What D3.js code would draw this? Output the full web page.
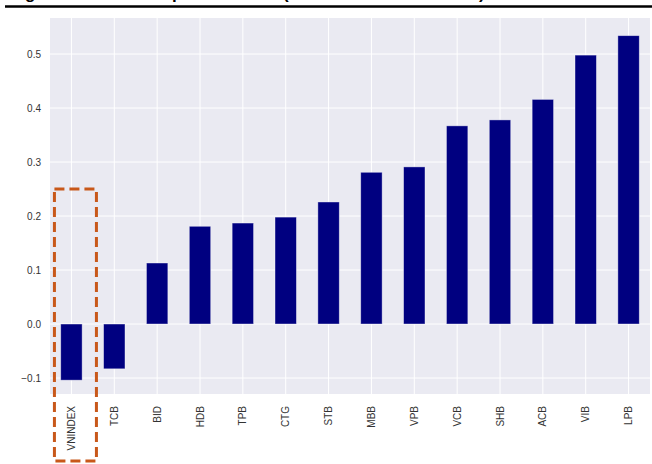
<!DOCTYPE html>
<html>
<head>
<meta charset="utf-8">
<script src="https://cdn.jsdelivr.net/npm/d3@7"></script>
<style>
  body { margin: 0; background: #fff; }
  svg { display: block; }
</style>
</head>
<body>
<svg width="652" height="464"></svg>
<script>
// bank tickers, sorted by value
var tickers = ["VNINDEX", "TCB", "BID", "HDB", "TPB", "CTG", "STB", "MBB", "VPB", "VCB", "SHB", "ACB", "VIB", "LPB"];
var values = [-0.104, -0.083, 0.113, 0.181, 0.187, 0.198, 0.226, 0.281, 0.291, 0.367, 0.378, 0.416, 0.498, 0.534];
var yTicks = [-0.1, 0.0, 0.1, 0.2, 0.3, 0.4, 0.5];

var svg = d3.select("svg"),
    width = +svg.attr("width"),
    height = +svg.attr("height");

var margin = { top: 18, right: 2, bottom: 70, left: 50 };
var plotW = width - margin.left - margin.right,
    plotH = height - margin.top - margin.bottom;

// cut-off title above the chart (only descenders visible)
var title = svg.append("g");
title.selectAll("text")
    .data([{ t: "g", x: 25 }, { t: "p", x: 172 }, { t: "(", x: 283 }, { t: ")", x: 479 }])
    .enter().append("text")
      .attr("x", d => d.x)
      .attr("y", -1)
      .attr("font-family", "Arial, 'Liberation Sans', sans-serif")
      .attr("font-weight", "bold")
      .attr("font-size", 17)
      .attr("fill", "#000")
      .text(d => d.t);
svg.append("line")
    .attr("x1", 5).attr("x2", width)
    .attr("y1", 6.5).attr("y2", 6.5)
    .attr("stroke", "#000")
    .attr("stroke-width", 2.5);

var g = svg.append("g")
    .attr("transform", "translate(" + margin.left + "," + margin.top + ")");

var x = d3.scaleBand()
    .domain(tickers)
    .range([0, plotW])
    .paddingInner(0.5)
    .paddingOuter(0.25);

var y = d3.scaleLinear()
    .domain([-0.1296, 0.5667])
    .range([plotH, 0]);

// seaborn darkgrid background
g.append("rect")
    .attr("width", plotW)
    .attr("height", plotH)
    .attr("fill", "#eaeaf2");

// grid lines
g.selectAll(".hgrid")
    .data(yTicks)
    .enter().append("line")
      .attr("class", "hgrid")
      .attr("x1", 0).attr("x2", plotW)
      .attr("y1", d => y(d)).attr("y2", d => y(d))
      .attr("stroke", "#fff")
      .attr("stroke-width", 1);

g.selectAll(".vgrid")
    .data(tickers)
    .enter().append("line")
      .attr("class", "vgrid")
      .attr("x1", d => x(d) + x.bandwidth() / 2)
      .attr("x2", d => x(d) + x.bandwidth() / 2)
      .attr("y1", 0).attr("y2", plotH)
      .attr("stroke", "#fff")
      .attr("stroke-width", 1);

// bars
g.selectAll(".bar")
    .data(values)
    .enter().append("rect")
      .attr("class", "bar")
      .attr("x", (d, i) => x(tickers[i]))
      .attr("width", x.bandwidth())
      .attr("y", d => y(Math.max(0, d)))
      .attr("height", d => Math.abs(y(d) - y(0)))
      .attr("fill", "#000080")
      .attr("stroke", "#ffffff")
      .attr("stroke-opacity", 0.5)
      .attr("stroke-width", 0.8);

// y axis
var yAxis = g.append("g")
    .call(d3.axisLeft(y).tickValues(yTicks).tickSize(0).tickPadding(9)
      .tickFormat(d3.format(".1f")));
yAxis.select(".domain").remove();
yAxis.selectAll("text")
    .attr("font-family", "Arial, 'Liberation Sans', sans-serif")
    .attr("font-size", 10)
    .attr("fill", "#333")
    .text(d => d3.format(".1f")(d).replace("-", "\u2212"));

// x axis, rotated labels
var xAxis = g.append("g")
    .attr("transform", "translate(0," + plotH + ")")
    .call(d3.axisBottom(x).tickSize(0).tickPadding(0));
xAxis.select(".domain").remove();
xAxis.selectAll("text")
    .attr("font-family", "Arial, 'Liberation Sans', sans-serif")
    .attr("font-size", 10)
    .attr("fill", "#333")
    .attr("transform", "rotate(-90)")
    .attr("text-anchor", "end")
    .attr("x", -12)
    .attr("y", 0)
    .attr("dy", "0.35em");

// dashed highlight box around VNINDEX
var bx = x("VNINDEX") + x.bandwidth() / 2;
svg.append("rect")
    .attr("x", margin.left + bx - 17)
    .attr("y", 189)
    .attr("width", 42)
    .attr("height", 272)
    .attr("fill", "none")
    .attr("stroke", "#c8581a")
    .attr("stroke-width", 3)
    .attr("stroke-dasharray", "10,5");
</script>
</body>
</html>
